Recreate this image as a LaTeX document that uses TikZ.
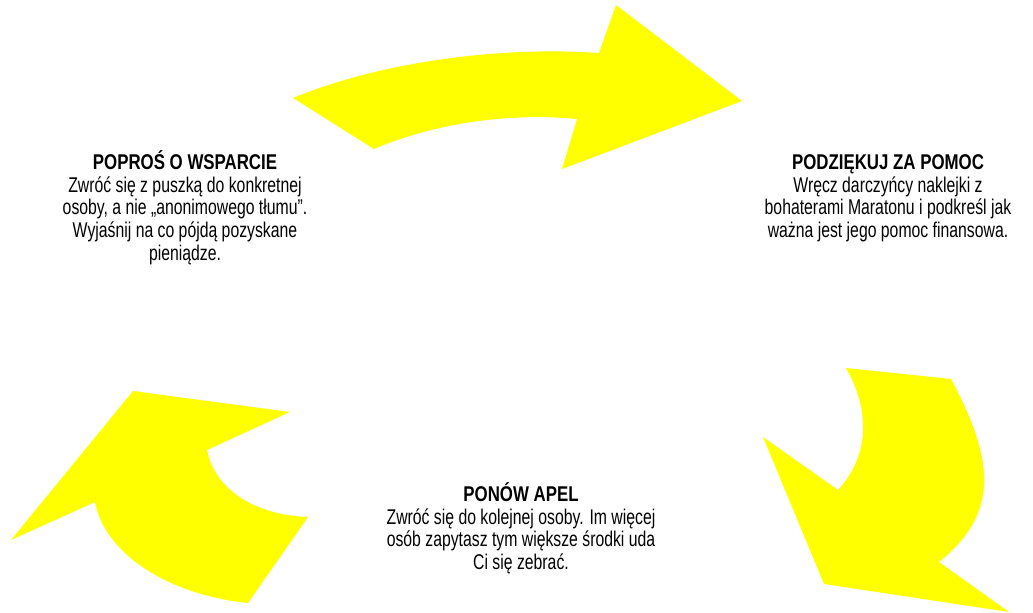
\documentclass[tikz,border=0pt]{standalone}
\usepackage{fontspec}
\setmainfont[FakeStretch=0.74, BoldFeatures={FakeStretch=0.79}]{Liberation Sans}
\definecolor{arrowyellow}{HTML}{FFFF00}
\begin{document}
\begin{tikzpicture}[x=0.75pt,y=-0.75pt]
\tikzset{blob/.style = {fill=arrowyellow, draw=none}}
\tikzset{txt/.style = {align=center, anchor=north, inner sep=0pt, font=\fontsize{16}{17}\selectfont}}
\def\hd{\rule{0pt}{16pt}}
\useasboundingbox (0,0) rectangle (1033,613);
% top arrow
\fill[blob] (293,98) .. controls (380,62) and (500,46) .. (599,53)
  -- (616,5) -- (742,101) -- (562,169) -- (577,119)
  .. controls (505,112) and (430,125) .. (374,149) -- cycle;
% lower left arrow
\fill[blob] (133,391) -- (290,412) -- (207,450)
  .. controls (215,490) and (255,515) .. (308,517)
  -- (248,603) .. controls (170,595) and (105,555) .. (95,502)
  -- (11,540) -- cycle;
% lower right arrow
\fill[blob] (846,368) -- (951,379)
  .. controls (997,465) and (997,515) .. (939,562)
  -- (1009,612) -- (824,584) -- (763,437) -- (838,490)
  .. controls (870,455) and (870,410) .. (846,368) -- cycle;
% texts
\node[txt](ask) at (185,148) {\hd\textbf{POPROŚ O WSPARCIE}\\Zwróć się z puszką do konkretnej\\osoby, a nie „anonimowego tłumu”.\\Wyjaśnij na co pójdą pozyskane\\pieniądze.};
\node[txt](thank) at (888,148) {\hd\textbf{PODZIĘKUJ ZA POMOC}\\Wręcz darczyńcy naklejki z\\bohaterami Maratonu i podkreśl jak\\ważna jest jego pomoc finansowa.};
\node[txt](again) at (521,480) {\hd\textbf{PONÓW APEL}\\Zwróć się do kolejnej osoby. Im więcej\\osób zapytasz tym większe środki uda\\Ci się zebrać.};
\end{tikzpicture}
\end{document}
